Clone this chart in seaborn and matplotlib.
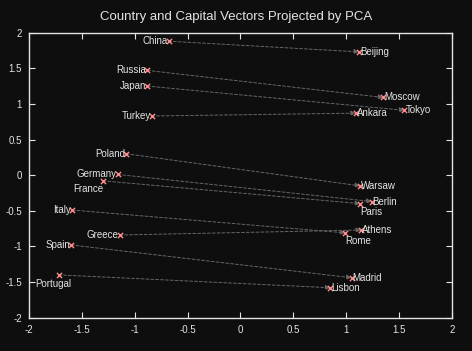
import numpy as np
import matplotlib
matplotlib.use("Agg")
import matplotlib.pyplot as plt
import seaborn as sns
import pandas as pd

# country -> capital pairs, PCA coordinates
countries = ["China", "Russia", "Japan", "Turkey", "Poland", "Germany", "France",
             "Italy", "Greece", "Spain", "Portugal"]
country_x = [-0.68, -0.88, -0.88, -0.84, -1.08, -1.16, -1.30, -1.59, -1.14, -1.60, -1.72]
country_y = [1.88, 1.47, 1.25, 0.83, 0.30, 0.01, -0.08, -0.49, -0.84, -0.98, -1.40]

capitals = ["Beijing", "Moscow", "Tokyo", "Ankara", "Warsaw", "Berlin", "Paris",
            "Rome", "Athens", "Madrid", "Lisbon"]
capital_x = [1.12, 1.35, 1.55, 1.09, 1.13, 1.24, 1.13, 0.99, 1.14, 1.05, 0.85]
capital_y = [1.73, 1.09, 0.91, 0.87, -0.15, -0.37, -0.40, -0.81, -0.77, -1.44, -1.58]

bg = "#0e0e0e"
fg = "#e4e4e4"
sns.set_theme(style="dark", rc={"axes.facecolor": bg, "figure.facecolor": bg})
plt.rcParams["font.family"] = ["Liberation Sans", "DejaVu Sans"]

fig = plt.figure(figsize=(4.72, 3.51), dpi=100)
ax = fig.add_axes([0.0614, 0.095, 0.8962, 0.812])

df = pd.DataFrame({
    "x": country_x + capital_x,
    "y": country_y + capital_y,
    "name": countries + capitals,
})

# dashed vectors country -> capital
for cx, cy, kx, ky in zip(country_x, country_y, capital_x, capital_y):
    ax.annotate("", xy=(kx, ky), xytext=(cx, cy),
                arrowprops=dict(arrowstyle="-|>", color="#666666", lw=0.7,
                                linestyle=(0, (3, 2)), mutation_scale=7,
                                shrinkA=0, shrinkB=0))

sns.scatterplot(data=df, x="x", y="y", marker="x", color="#ff8a8a", s=14,
                linewidth=1.0, ax=ax, zorder=3)

# labels: countries on the left, capitals on the right
fs = 7
for name, x, y in zip(df["name"], df["x"], df["y"]):
    if name == "France":
        ax.text(x, y - 0.05, name, color=fg, fontsize=fs, ha="right", va="top")
    elif name == "Portugal":
        ax.text(x - 0.05, y - 0.06, name, color=fg, fontsize=fs, ha="center", va="top")
    elif name in ("Paris", "Rome"):
        ax.text(x, y - 0.05, name, color=fg, fontsize=fs, ha="left", va="top")
    elif name in countries:
        ax.text(x - 0.01, y, name, color=fg, fontsize=fs, ha="right", va="center")
    else:
        ax.text(x + 0.01, y, name, color=fg, fontsize=fs, ha="left", va="center")

ticks = np.arange(-2, 2.01, 0.5)
labels = ["-2", "-1.5", "-1", "-0.5", "0", "0.5", "1", "1.5", "2"]
ax.set_xlim(-2, 2)
ax.set_ylim(-2, 2)
ax.set_xticks(ticks)
ax.set_yticks(ticks)
ax.set_xticklabels(labels)
ax.set_yticklabels(labels)
ax.tick_params(direction="in", length=4, width=0.8, color=fg, labelcolor=fg,
               labelsize=7, top=True, right=True, bottom=True, left=True, pad=5)
ax.set_xlabel("")
ax.set_ylabel("")
ax.grid(False)
for s in ax.spines.values():
    s.set_color(fg)
    s.set_linewidth(1.0)
    s.set_visible(True)

fig.suptitle("Country and Capital Vectors Projected by PCA", color=fg,
             fontsize=9.5, y=0.97)

fig.savefig("out.png", dpi=100, facecolor=bg)
